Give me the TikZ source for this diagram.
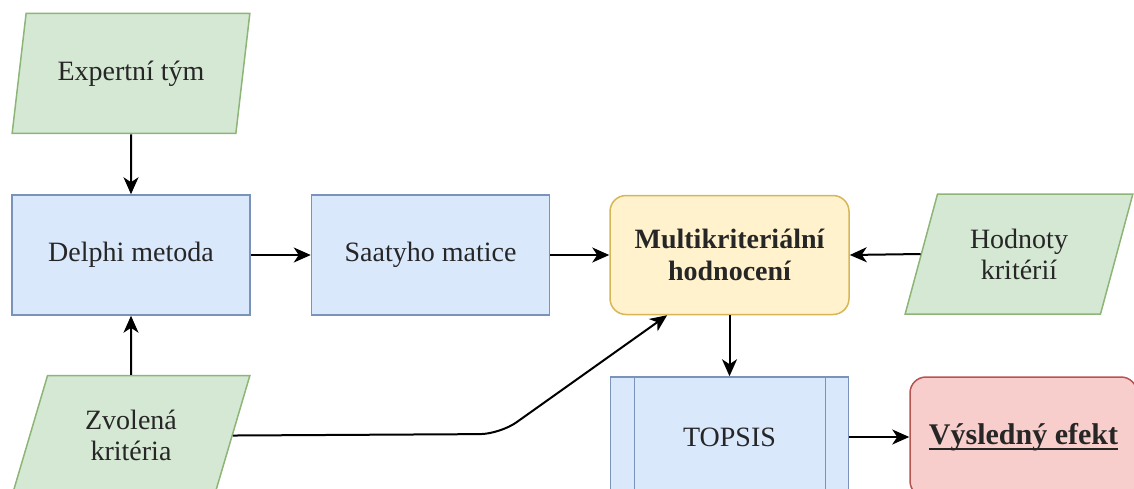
\documentclass[tikz,border=0pt]{standalone}
\usepackage{fontspec}
\setmainfont{LiberationSerif}[Extension=.ttf, UprightFont=*-Regular, BoldFont=*-Bold, ItalicFont=*-Italic, BoldItalicFont=*-BoldItalic]
\usepackage{tikz}
\usetikzlibrary{arrows.meta,positioning,shapes.geometric}
\tikzstyle{every picture}+=[font=\fontsize{28}{31}\selectfont]

\definecolor{datafill}{HTML}{D5E8D4}
\definecolor{datadraw}{HTML}{8DB577}
\definecolor{procfill}{HTML}{DAE8FC}
\definecolor{procdraw}{HTML}{7A93BA}
\definecolor{evalfill}{HTML}{FFF2CC}
\definecolor{evaldraw}{HTML}{D6B656}
\definecolor{resfill}{HTML}{F8CECC}
\definecolor{resdraw}{HTML}{B85450}

\newsavebox{\resultbox}
\newcommand{\resulttext}[1]{\sbox{\resultbox}{#1}\makebox[0pt][l]{#1}\rule[-5.5pt]{\wd\resultbox}{1.8pt}}

\begin{document}
\begin{tikzpicture}
			[x=1pt, y=-1pt, inner sep=0pt, text=black!85,
			data/.style		= {draw=datadraw, fill=datafill, line width=1.5pt, trapezium, trapezium left angle=69, trapezium right angle=111, trapezium stretches=true, minimum width=238pt, minimum height=120pt, align=center},
			process/.style	= {draw=procdraw, fill=procfill, line width=1.5pt, rectangle, minimum width=238pt, minimum height=120pt, align=center},
			subproc/.style	= {process, path picture={
							\draw[procdraw, line width=1.5pt] ([xshift=24pt]path picture bounding box.north west) -- ([xshift=24pt]path picture bounding box.south west);
							\draw[procdraw, line width=1.5pt] ([xshift=-23pt]path picture bounding box.north east) -- ([xshift=-23pt]path picture bounding box.south east);}},
			evaluation/.style	= {draw=evaldraw, fill=evalfill, line width=1.5pt, rectangle, rounded corners=16pt, minimum width=239pt, minimum height=119pt, align=center, font=\fontsize{28}{32}\selectfont\bfseries},
			result/.style	= {draw=resdraw, fill=resfill, line width=1.5pt, rectangle, rounded corners=16pt, minimum width=227pt, minimum height=120pt, align=center, font=\fontsize{30}{34}\selectfont\bfseries},
			flow/.style		= {line width=2pt, -{Stealth[length=17pt, width=15pt, inset=5pt]}}]

			\useasboundingbox (0,0) rectangle (1134,488);

			\node [process]		at (131,255)					(delphi)	{Delphi metoda};
			\node [process]		[right = 60pt of delphi]		(saaty)		{Saatyho matice};
			\node [evaluation]	[right = 59pt of saaty]			(multi)		{Multikriteriální\\hodnocení};
			\node [data, minimum width=228pt]	at (1019,254)	(hodnoty)	{Hodnoty\\kritérií};
			\node [data]		[above = 60pt of delphi]		(expert)	{Expertní tým};
			\node [data]		[below = 59pt of delphi]		(zvolena)	{Zvolená\\kritéria};
			\node [subproc]		[below = 61pt of multi]			(topsis)	{TOPSIS};
			\node [result]		[right = 60pt of topsis]		(vysledek)	{\resulttext{Výsledný efekt}};

			\coordinate (bend) at (500,434);

			\draw [flow] (expert) -- (delphi);
			\draw [flow] (zvolena) -- (delphi);
			\draw [flow] (delphi) -- (saaty);
			\draw [flow] (saaty) -- (multi);
			\draw [flow] (hodnoty.west) -- (multi.east);
			\draw [flow, rounded corners=20pt] (zvolena.east) -- (bend) -- (multi.224);
			\draw [flow] (multi) -- (topsis);
			\draw [flow] (topsis) -- (vysledek);
\end{tikzpicture}
\end{document}
